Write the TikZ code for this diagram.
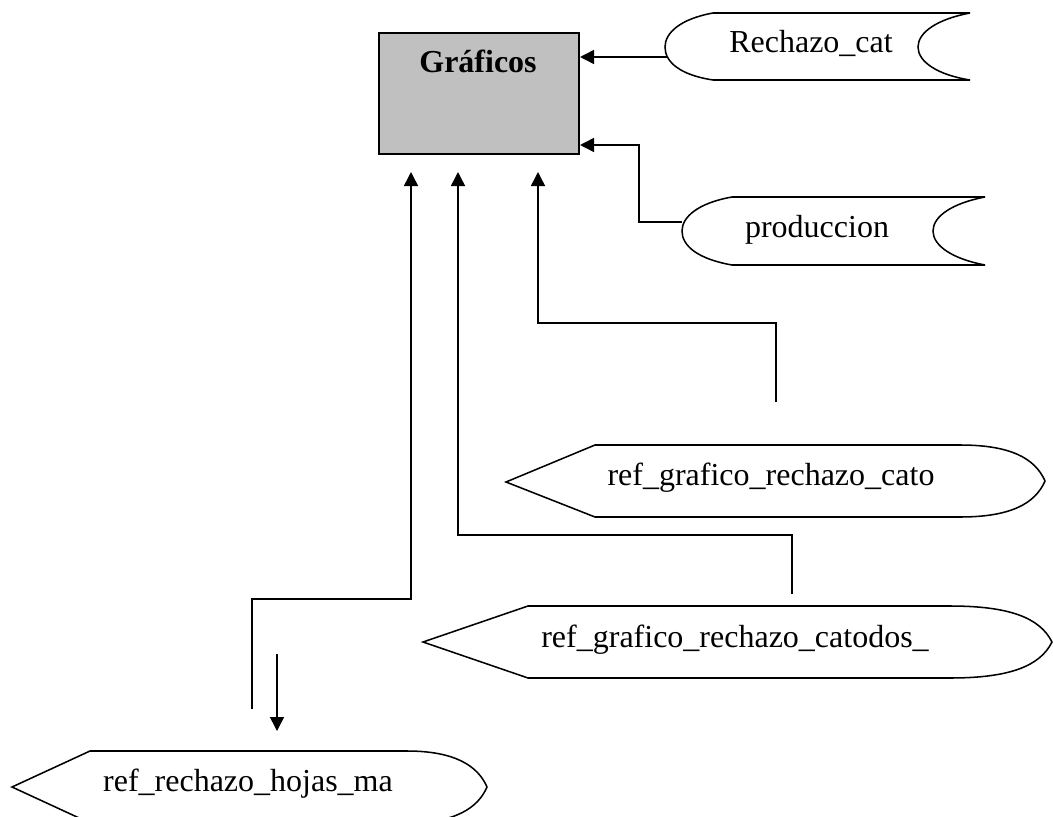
\documentclass[tikz,border=0pt]{standalone}
\usepackage{fontspec}
\setmainfont{Liberation Serif}
\usetikzlibrary{arrows.meta}
\definecolor{boxgray}{HTML}{C0C0C0}
\tikzset{
  lw/.style={line width=1.15pt},
  arr/.style={lw, -{Triangle[length=10.5pt,width=10.5pt]}},
  shp/.style={lw, fill=white, line join=miter},
  lbl/.style={anchor=base, inner sep=0pt, font=\fontsize{24}{28}\selectfont},
}
\begin{document}
\begin{tikzpicture}[x=0.75pt, y=-0.75pt]
\useasboundingbox (0,0) rectangle (1053,817);
\clip (0,0) rectangle (1053,817);

% main process box
\node[draw, line width=1.45pt, fill=boxgray, minimum width=150pt, minimum height=90.75pt,
      inner sep=0pt, anchor=north west] (graf) at (378,32) {};
\node[lbl, font=\fontsize{24}{28}\selectfont\bfseries] (graft) at (478,73) {Gráficos};

% stored data: Rechazo_cat
\draw[shp] (970,13) -- (713,13)
  .. controls (680,19) and (665,33) .. (665,47)
  .. controls (665,62) and (680,75) .. (713,80) -- (970,80)
  .. controls (938,75) and (918,62) .. (918,47)
  .. controls (918,32) and (938,19) .. (970,13);
\node[lbl] (rc) at (811,53) {Rechazo\_cat};

% stored data: produccion
\draw[shp] (985,197) -- (732,197)
  .. controls (698,203) and (682,217) .. (682,231)
  .. controls (682,246) and (698,259) .. (732,265) -- (985,265)
  .. controls (953,259) and (933,246) .. (933,231)
  .. controls (933,216) and (953,203) .. (985,197);
\node[lbl] (pr) at (817,237) {produccion};

% display: ref_grafico_rechazo_cato
\draw[shp] (506,482) -- (595,445) -- (960,445)
  .. controls (1010,445) and (1035,458) .. (1045,481)
  .. controls (1035,504) and (1010,517) .. (960,517)
  -- (595,517) -- cycle;
\node[lbl] (ca) at (771,485) {ref\_grafico\_rechazo\_cato};

% display: ref_grafico_rechazo_catodos_
\draw[shp] (423,642) -- (528,606) -- (950,606)
  .. controls (1010,606) and (1040,618) .. (1052,642)
  .. controls (1040,666) and (1010,678) .. (950,678)
  -- (528,678) -- cycle;
\node[lbl] (cd) at (735,647) {ref\_grafico\_rechazo\_catodos\_};

% display: ref_rechazo_hojas_ma
\draw[shp] (12,787) -- (90,751) -- (407,751)
  .. controls (455,751) and (478,766) .. (487,787)
  .. controls (478,808) and (455,823) .. (407,823)
  -- (90,823) -- cycle;
\node[lbl] (hj) at (248,791) {ref\_rechazo\_hojas\_ma};

% connection points
\coordinate (rc-w) at (667,57);
\coordinate (g-in-rc) at (580,57);
\coordinate (pr-w) at (682,222);
\coordinate (pr-bend) at (639,222);
\coordinate (g-in-pr) at (580,145);
\coordinate (ca-src) at (776,402);
\coordinate (ca-bend) at (538,323);
\coordinate (in3) at (538,172);
\coordinate (cd-src) at (792,594);
\coordinate (cd-bend) at (458,535);
\coordinate (in2) at (458,172);
\coordinate (hj-src) at (252,709);
\coordinate (hj-bend) at (411,599);
\coordinate (in1) at (411,172);
\coordinate (hj-a) at (277,654);
\coordinate (hj-in) at (277,731);

% connectors
\draw[arr] (rc-w) -- (g-in-rc);
\draw[arr] (pr-w) -- (pr-bend) |- (g-in-pr);
\draw[arr] (ca-src) |- (ca-bend) -- (in3);
\draw[arr] (cd-src) |- (cd-bend) -- (in2);
\draw[arr] (hj-src) |- (hj-bend) -- (in1);
\draw[arr] (hj-a) -- (hj-in);
\end{tikzpicture}
\end{document}
